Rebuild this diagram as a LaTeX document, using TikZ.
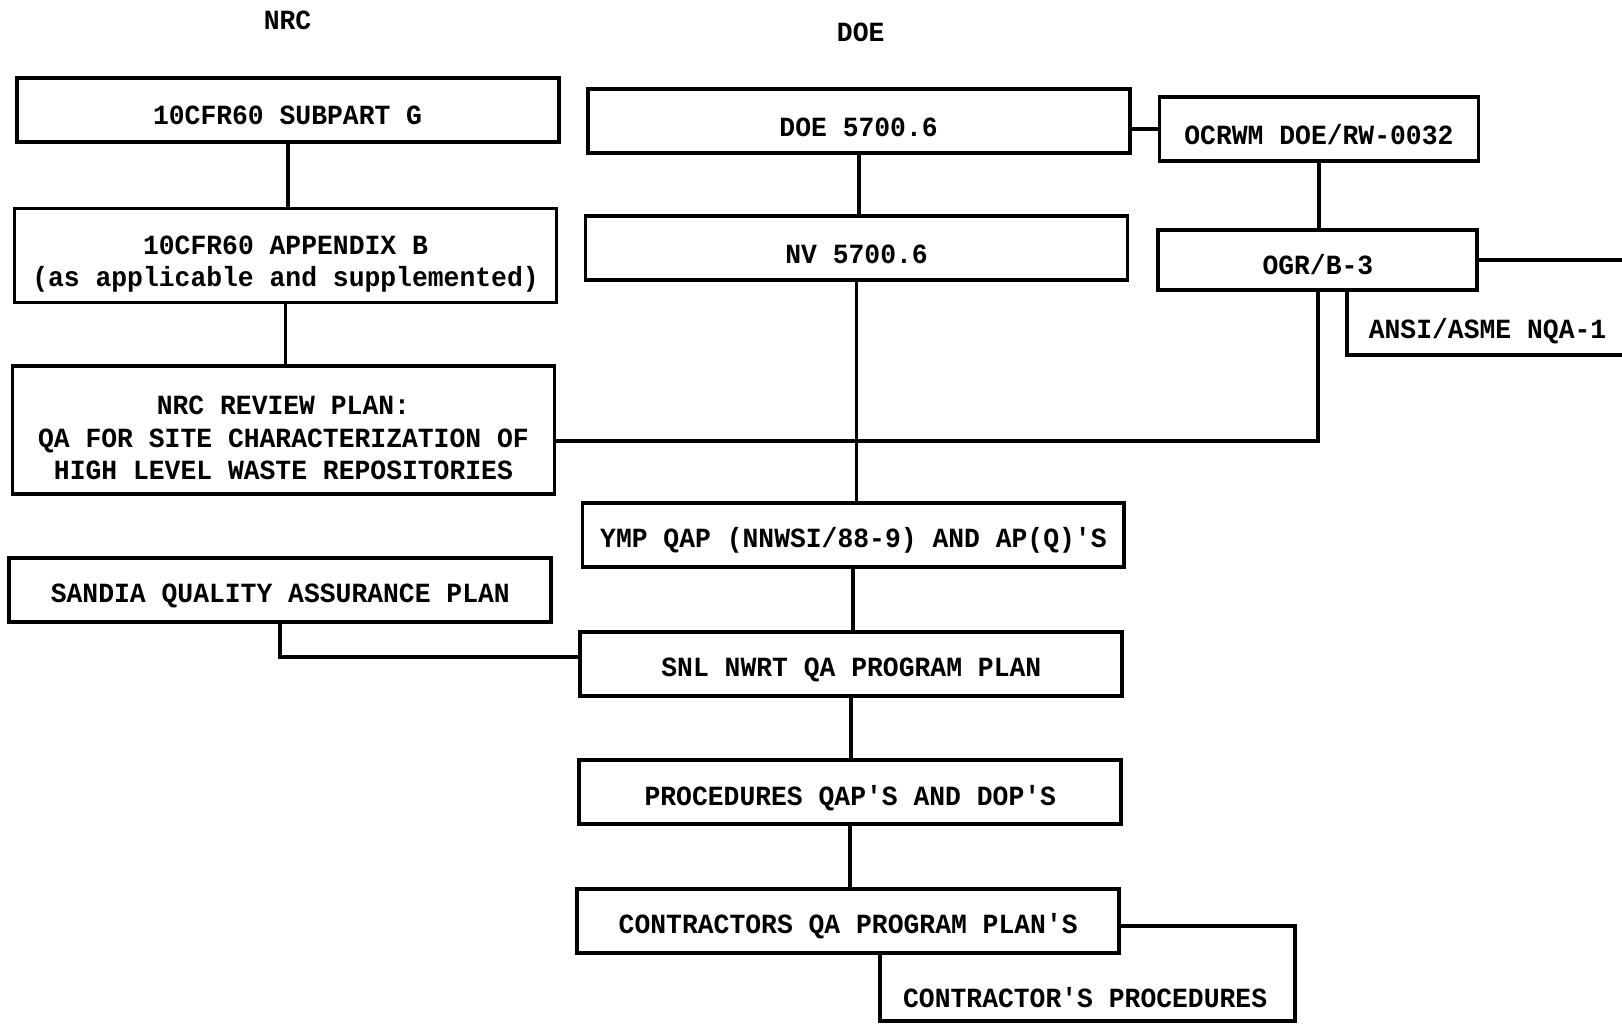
\documentclass[tikz,border=0pt]{standalone}
\usepackage{fontspec}
\newfontfamily\typefont[FakeStretch=0.95]{Liberation Mono}
\usetikzlibrary{calc}
\newcommand\lift[1]{\rule{0pt}{\dimexpr\fontcharht\font`H+#1\relax}}

\begin{document}
\begin{tikzpicture}
    [x=0.010344cm, y=-0.010344cm,
     every node/.style={font={\typefont\bfseries\fontsize{7.9}{9.3}\selectfont}},
     doc/.style={rectangle, draw=black, line width=1.1pt, inner sep=0pt, align=center, minimum height=0.64cm,
                 execute at begin node={\lift{3.6pt}}},
     wide/.style={doc, minimum width=5.42cm},
     narrow/.style={doc, minimum width=3.19cm},
     link/.style={draw=black, line width=1.1pt}]
    \useasboundingbox (0,0) rectangle (1568,989);
    % column headings
    \node(nrclbl) at (278,20) {NRC};
    \node(doelbl) at (832,31) {DOE};
    % NRC column
    \node(subG)[wide] at (278,106) {10CFR60 SUBPART G};
    \node(appB)[wide, minimum height=0.94cm] at (276,247) {\lift{5pt}10CFR60 APPENDIX B\\(as applicable and supplemented)};
    \node(nrcrev)[wide, minimum height=1.28cm] at (274,416) {\lift{4.4pt}NRC REVIEW PLAN:\\QA FOR SITE CHARACTERIZATION OF\\HIGH LEVEL WASTE REPOSITORIES};
    \node(sandia)[wide] at (271,570) {SANDIA QUALITY ASSURANCE PLAN};
    % DOE column
    \node(doe)[wide] at (830,117) {DOE 5700.6};
    \node(nv)[wide] at (828,240) {NV 5700.6};
    \node(ymp)[wide] at (825,517) {YMP QAP (NNWSI/88-9) AND AP(Q)'S};
    \node(snl)[wide] at (823,642) {SNL NWRT QA PROGRAM PLAN};
    \node(proc)[wide] at (822,766) {PROCEDURES QAP'S AND DOP'S};
    \node(contr)[wide] at (820,890) {CONTRACTORS QA PROGRAM PLAN'S};
    % right column
    \node(ocrwm)[narrow] at (1275,125) {OCRWM DOE/RW-0032};
    \node(ogr)[narrow, minimum height=0.6cm] at (1274,251) {OGR/B-3};
    \node(ansi) at (1438,320) {ANSI/ASME NQA-1};
    \node(cproc) at (1049,964) {CONTRACTOR'S PROCEDURES};
    \coordinate(rim) at (1568,0);
    \coordinate(ansicorner) at (1302,343);
    \coordinate(cpright) at (1252,987);
    \coordinate(cpleft) at (851,987);
    % links
    \foreach \a/\b in {subG/appB,appB/nrcrev,doe/nv,nv/ymp,ymp/snl,snl/proc,proc/contr,ocrwm/ogr}{
        \draw[link] (\a.south) -- (\a.south |- \b.north);
    }
    \draw[link] (ocrwm.west -| doe.east) -- (ocrwm.west);
    \draw[link] ([yshift=-3pt]nrcrev.east) -| (ogr.south);
    \draw[link] (sandia.south) |- ([yshift=2pt]snl.west);
    \draw[link] (ogr.east) -- (ogr.east -| rim);
    \draw[link] (ogr.south -| ansicorner) -- (ansicorner) -- (ansicorner -| rim);
    \draw[link] ([yshift=-1.5pt]contr.east) -| (cpright) -- (cpleft) -- (cpleft |- contr.south);
\end{tikzpicture}
\end{document}
